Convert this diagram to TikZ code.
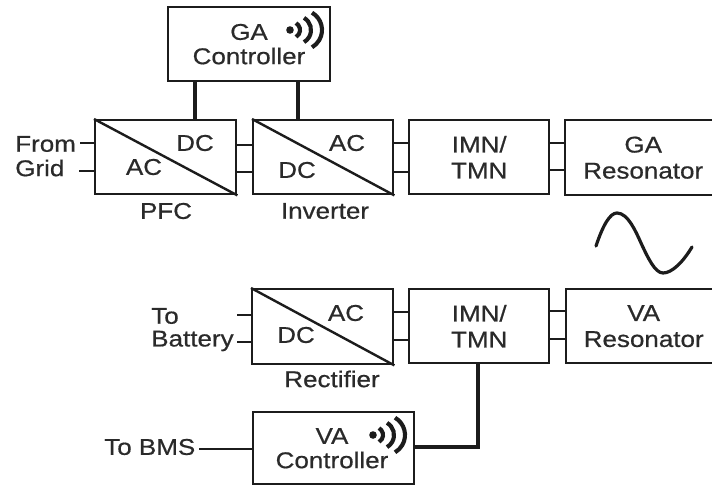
\documentclass[tikz,border=0pt]{standalone}
\usepackage{fontspec}
\setmainfont[FakeStretch=1.14,FakeBold=0.6]{Liberation Sans}
\usetikzlibrary{positioning, calc}
\definecolor{dginkline}{HTML}{1C1C1C}
\definecolor{dginktext}{HTML}{2A2A2A}

\newcommand{\wavesign}[1]{%
  \fill[dginkline] (#1) circle (3.8);
  \foreach \d/\r in {10/8,21/14,32/20}
    \draw[dginkline, line width=3.1pt] ($(#1)+(\d-\r,0)+(-60:\r)$) arc (-60:60:\r);
}

\begin{document}
\begin{tikzpicture}[x=0.75pt, y=-0.75pt, font=\fontsize{17.1pt}{19.5pt}\selectfont,
    blk/.style={draw=dginkline, line width=1.8pt, text=dginktext, align=center, anchor=north west,
                inner sep=0pt},
    lbl/.style={text=dginktext, inner sep=0pt, align=center},
    stub/.style={dginkline, line width=1.8pt},
    bus/.style={dginkline, line width=2.6pt}]
    \useasboundingbox (0,0) rectangle (712,485);

    \node[blk, minimum width=162*0.75pt, minimum height=74*0.75pt] (gactl) at (167,6) {};
    \node[blk, minimum width=141*0.75pt, minimum height=74*0.75pt] (pfc) at (94,119) {};
    \node[blk, minimum width=140*0.75pt, minimum height=74*0.75pt] (inv) at (252,119) {};
    \node[blk, minimum width=140*0.75pt, minimum height=74*0.75pt] (imna) at (408,119) {IMN/\\TMN};
    \node[blk, minimum width=156*0.75pt, minimum height=75*0.75pt] (gares) at (564,119) {GA\\Resonator};
    \node[blk, minimum width=141*0.75pt, minimum height=75*0.75pt] (rect) at (251,288) {};
    \node[blk, minimum width=140*0.75pt, minimum height=74*0.75pt] (imnb) at (408,288) {IMN/\\TMN};
    \node[blk, minimum width=155*0.75pt, minimum height=74*0.75pt] (vares) at (565,288) {VA\\Resonator};
    \node[blk, minimum width=161*0.75pt, minimum height=72*0.75pt] (vactl) at (252,411) {};

    % converter diagonals
    \draw[stub] (pfc.north west) -- (pfc.south east);
    \draw[stub] (inv.north west) -- (inv.south east);
    \draw[stub] (rect.north west) -- (rect.south east);

    \node[lbl] (gatxt) at (249,32) {GA};
    \node[lbl] (gactxt) at (249,56) {Controller};
    \node[lbl] (pfcdc) at (195,143) {DC};
    \node[lbl] (pfcac) at (144,167) {AC};
    \node[lbl] (invac) at (347,143) {AC};
    \node[lbl] (invdc) at (297,170) {DC};
    \node[lbl] (rectac) at (346,313) {AC};
    \node[lbl] (rectdc) at (296,335) {DC};
    \node[lbl] (vatxt) at (332,436) {VA};
    \node[lbl] (vactxt) at (332,460) {Controller};
    \node[lbl] (pfcname) at (166,211) {PFC};
    \node[lbl] (invname) at (325,211) {Inverter};
    \node[lbl] (rectname) at (332,379) {Rectifier};
    \node[lbl, anchor=west] (from) at (15,144) {From};
    \node[lbl, anchor=west] (grid) at (15,168) {Grid};
    \node[lbl, anchor=west] (tolbl) at (151,316) {To};
    \node[lbl, anchor=west] (batt) at (151,341) {Battery};
    \node[lbl, anchor=west] (bms) at (104,447) {To BMS};

    \wavesign{290,30}
    \wavesign{373,435}

    % controller links
    \draw[bus] (gactl.south -| 195,0) -- (pfc.north -| 195,0);
    \draw[bus] (gactl.south -| 298,0) -- (inv.north -| 298,0);
    \draw[bus] (imnb.south -| 478,0) |- (vactl.east |- 0,447);
    \draw[stub] (vactl.west |- 0,449) -- (199,449);

    % power stubs
    \foreach \ya/\blka/\blkb in {145/pfc/inv, 172/pfc/inv, 143/inv/imna, 172/inv/imna, 143/imna/gares, 170/imna/gares,
                                 312/rect/imnb, 340/rect/imnb, 311/imnb/vares, 339/imnb/vares}
      \draw[stub] (\blka.east |- 0,\ya) -- (\blkb.west |- 0,\ya);
    \draw[stub] (pfc.west |- 0,143) -- (80,143);
    \draw[stub] (pfc.west |- 0,171) -- (79,171);
    \draw[stub] (rect.west |- 0,315) -- (237,315);
    \draw[stub] (rect.west |- 0,342) -- (237,342);

    % coupling wave
    \draw[dginkline, line width=2.4pt, line cap=round] (596,246) .. controls (603,225) and (610,213) .. (617,213)
      .. controls (628,213) and (636,232) .. (641,243)
      .. controls (648,258) and (655,273) .. (663,273)
      .. controls (672,273) and (683,262) .. (692,247);
\end{tikzpicture}
\end{document}
